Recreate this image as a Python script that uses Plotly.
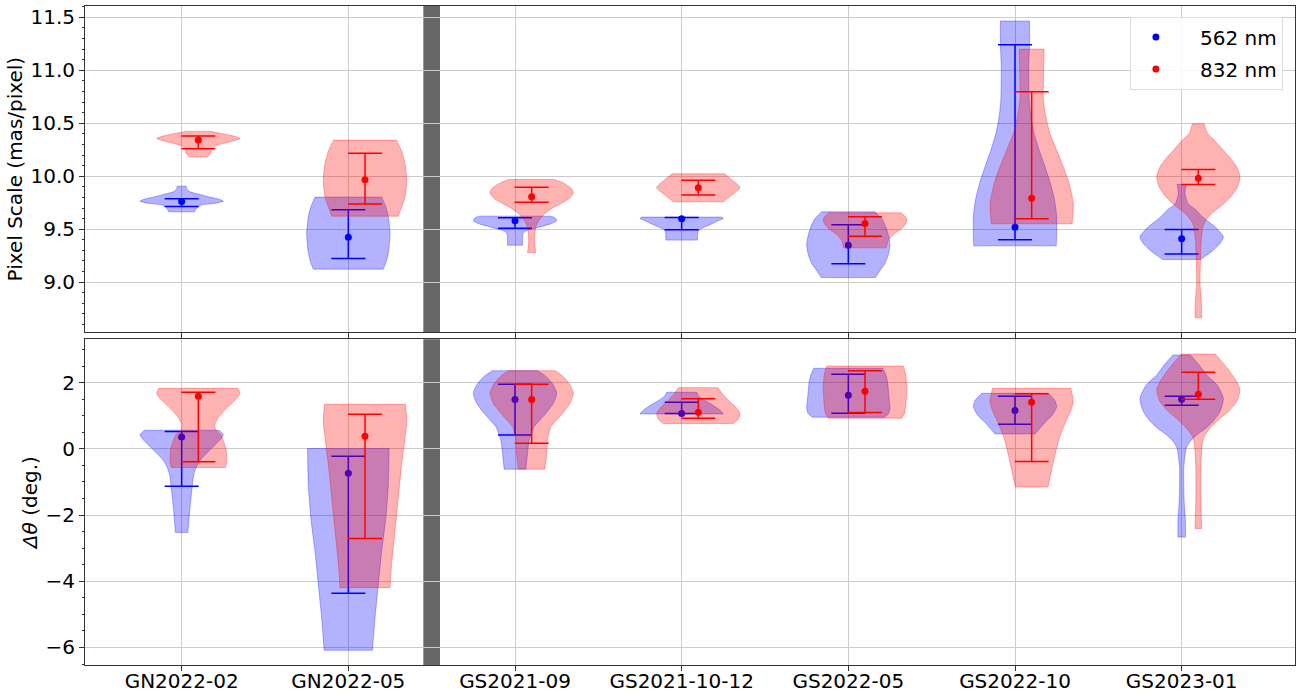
import plotly.graph_objects as go

# ---------------------------------------------------------------- data
CATEGORIES = ["GN2022-02", "GN2022-05", "GS2021-09", "GS2021-10-12",
              "GS2022-05", "GS2022-10", "GS2023-01"]
POSITIONS = list(range(len(CATEGORIES)))
OFFSET_832 = 0.1          # 832 nm marks sit a little right of the 562 nm marks
VIOLIN_WIDTH = 0.5        # full width of a violin at its widest point

# Pixel scale (mas/pixel): central value and interval ends
PS_562_MID = [9.762, 9.425, 9.579, 9.598, 9.349, 9.519, 9.409]
PS_562_HIGH = [9.787, 9.683, 9.607, 9.611, 9.541, 11.241, 9.498]
PS_562_LOW = [9.715, 9.224, 9.510, 9.494, 9.173, 9.400, 9.267]
PS_832_MID = [10.341, 9.966, 9.806, 9.891, 9.554, 9.793, 9.982]
PS_832_HIGH = [10.379, 10.218, 9.897, 9.963, 9.617, 10.797, 10.064]
PS_832_LOW = [10.259, 9.737, 9.755, 9.822, 9.434, 9.598, 9.922]

# Rotation offset (deg.): central value and interval ends
DT_562_MID = [0.362, -0.734, 1.488, 1.066, 1.620, 1.157, 1.498]
DT_562_HIGH = [0.523, -0.220, 1.950, 1.408, 2.253, 1.589, 1.589]
DT_562_LOW = [-1.126, -4.365, 0.420, 1.066, 1.076, 0.744, 1.317]
DT_832_MID = [1.589, 0.382, 1.488, 1.106, 1.740, 1.408, 1.649]
DT_832_HIGH = [1.709, 1.046, 1.950, 1.518, 2.363, 1.669, 2.313]
DT_832_LOW = [-0.392, -2.705, 0.171, 0.925, 1.096, -0.382, 1.498]

# Violin profiles: [value, relative density] from top to bottom
PS_562_PROFILE = [
    [[9.906, 0.11], [9.880, 0.12], [9.853, 0.20], [9.830, 0.42], [9.806, 0.64],
     [9.785, 0.88], [9.765, 1.00], [9.745, 0.80], [9.727, 0.46], [9.700, 0.36],
     [9.664, 0.31]],
    [[9.803, 0.80], [9.711, 0.90], [9.617, 0.96], [9.460, 1.00], [9.302, 0.97],
     [9.208, 0.92], [9.123, 0.84]],
    [[9.623, 0.85], [9.610, 0.95], [9.579, 1.00], [9.550, 0.85], [9.507, 0.46],
     [9.480, 0.24], [9.455, 0.19], [9.420, 0.18], [9.349, 0.18]],
    [[9.614, 0.97], [9.600, 1.00], [9.580, 0.88], [9.554, 0.74], [9.525, 0.58],
     [9.498, 0.43], [9.480, 0.39], [9.397, 0.38]],
    [[9.664, 0.64], [9.600, 0.80], [9.522, 0.90], [9.430, 0.97], [9.349, 1.00],
     [9.260, 0.96], [9.177, 0.88], [9.110, 0.76], [9.044, 0.65]],
    [[11.465, 0.35], [11.254, 0.35], [11.033, 0.33], [10.719, 0.34], [10.561, 0.38],
     [10.400, 0.46], [10.246, 0.58], [10.089, 0.72], [9.932, 0.85], [9.774, 0.95],
     [9.617, 1.00], [9.460, 1.00], [9.343, 0.99]],
    [[9.922, 0.11], [9.837, 0.08], [9.743, 0.15], [9.680, 0.35], [9.617, 0.50],
     [9.522, 0.80], [9.428, 1.00], [9.365, 0.92], [9.302, 0.76], [9.214, 0.46]],
]
PS_832_PROFILE = [
    [[10.423, 0.30], [10.404, 0.55], [10.379, 0.85], [10.357, 1.00], [10.325, 0.75],
     [10.294, 0.45], [10.262, 0.32], [10.215, 0.29], [10.183, 0.22]],
    [[10.341, 0.75], [10.246, 0.87], [10.121, 0.96], [9.963, 1.00], [9.806, 0.96],
     [9.711, 0.88], [9.623, 0.80]],
    [[9.970, 0.54], [9.932, 0.78], [9.885, 0.95], [9.843, 1.00], [9.790, 0.90],
     [9.743, 0.70], [9.696, 0.48], [9.649, 0.32], [9.585, 0.18], [9.522, 0.10],
     [9.397, 0.07], [9.333, 0.08], [9.280, 0.10]],
    [[10.023, 0.63], [9.963, 0.82], [9.894, 1.00], [9.822, 0.80], [9.759, 0.60]],
    [[9.655, 0.87], [9.601, 1.00], [9.554, 0.98], [9.507, 0.88], [9.460, 0.71],
     [9.397, 0.56], [9.324, 0.51]],
    [[11.200, 0.30], [11.033, 0.29], [10.876, 0.28], [10.719, 0.28], [10.561, 0.34],
     [10.400, 0.44], [10.246, 0.60], [10.089, 0.76], [9.932, 0.90], [9.743, 1.00],
     [9.649, 0.99], [9.551, 0.97]],
    [[10.495, 0.14], [10.404, 0.22], [10.341, 0.38], [10.262, 0.56], [10.183, 0.74],
     [10.089, 0.92], [9.994, 1.00], [9.900, 0.94], [9.806, 0.78], [9.711, 0.52],
     [9.649, 0.32], [9.585, 0.18], [9.522, 0.11], [9.397, 0.07], [9.208, 0.05],
     [8.990, 0.04], [8.830, 0.07], [8.663, 0.08]],
]
DT_562_PROFILE = [
    [[0.563, 0.90], [0.420, 1.00], [0.220, 0.88], [0.020, 0.72], [-0.180, 0.56],
     [-0.380, 0.42], [-0.580, 0.34], [-0.780, 0.29], [-1.290, 0.24], [-1.890, 0.19],
     [-2.524, 0.15]],
    [[0.010, 0.98], [-1.090, 0.96], [-2.090, 0.90], [-3.100, 0.80], [-4.100, 0.72],
     [-5.110, 0.64], [-6.084, 0.58]],
    [[2.363, 0.54], [2.180, 0.75], [1.930, 0.92], [1.680, 1.00], [1.379, 0.92],
     [1.076, 0.74], [0.875, 0.60], [0.673, 0.46], [0.270, 0.34], [-0.130, 0.30],
     [-0.612, 0.26]],
    [[1.709, 0.36], [1.578, 0.42], [1.428, 0.60], [1.277, 0.80], [1.146, 0.94],
     [1.055, 1.00]],
    [[2.434, 0.83], [2.232, 0.90], [2.030, 0.94], [1.629, 0.97], [1.228, 1.00],
     [1.077, 0.97], [0.957, 0.87]],
    [[1.679, 0.80], [1.478, 0.95], [1.277, 1.00], [1.026, 0.90], [0.825, 0.74],
     [0.624, 0.60], [0.452, 0.48]],
    [[2.836, 0.21], [2.534, 0.42], [2.230, 0.60], [1.930, 0.85], [1.528, 1.00],
     [1.126, 0.92], [0.825, 0.75], [0.624, 0.58], [0.420, 0.36], [0.220, 0.20],
     [0.020, 0.11], [-0.580, 0.05], [-1.590, 0.06], [-2.190, 0.09], [-2.665, 0.09]],
]
DT_832_PROFILE = [
    [[1.830, 0.95], [1.679, 1.00], [1.528, 0.92], [1.330, 0.76], [1.126, 0.60],
     [0.925, 0.47], [0.725, 0.39], [0.573, 0.42], [0.420, 0.54], [0.020, 0.66],
     [-0.380, 0.68], [-0.563, 0.65]],
    [[1.348, 0.97], [0.825, 1.00], [-0.580, 0.87], [-2.090, 0.75], [-3.600, 0.63],
     [-4.193, 0.60]],
    [[2.363, 0.56], [2.180, 0.76], [1.930, 0.92], [1.680, 1.00], [1.379, 0.92],
     [1.076, 0.74], [0.875, 0.60], [0.673, 0.46], [0.270, 0.38], [-0.130, 0.36],
     [-0.612, 0.32]],
    [[1.850, 0.47], [1.629, 0.60], [1.428, 0.75], [1.227, 0.92], [1.076, 1.00],
     [0.925, 0.97], [0.824, 0.90], [0.764, 0.84]],
    [[2.504, 0.92], [2.232, 0.98], [1.830, 1.00], [1.327, 0.98], [1.077, 0.95],
     [0.925, 0.88]],
    [[1.830, 0.94], [1.428, 1.00], [1.126, 0.93], [0.825, 0.82], [0.322, 0.66],
     [-0.180, 0.56], [-0.680, 0.47], [-1.154, 0.39]],
    [[2.866, 0.41], [2.430, 0.70], [2.030, 0.92], [1.780, 1.00], [1.428, 0.92],
     [1.127, 0.72], [0.875, 0.48], [0.625, 0.28], [0.420, 0.16], [0.220, 0.10],
     [-0.580, 0.06], [-1.590, 0.06], [-2.404, 0.08]],
]

SERIES_NAMES = ["562 nm", "832 nm"]
LINE_COLORS = ["blue", "red"]
FILL_COLORS = ["rgba(0,0,255,0.3)", "rgba(255,0,0,0.3)"]

FONT = "DejaVu Sans"
X_RANGE = [-0.58, 6.68]
PS_RANGE = [8.527, 11.607]
DT_RANGE = [-6.53, 3.31]

fig = go.Figure()


def outline(x0, profile):
    """Closed violin outline; extra points hugging each corner keep the
    flat ends crisp when the sides are drawn as a smooth curve."""
    ys = [p[0] for p in profile]
    hw = [p[1] * VIOLIN_WIDTH / 2 for p in profile]
    eps = 0.03
    n = len(ys)

    def side(sign):
        pts = []
        for i in range(n):
            pts.append((x0 + sign * hw[i], ys[i]))
            if i == 0 or i == n - 2:
                t = eps if i == 0 else 1 - eps
                pts.append((x0 + sign * (hw[i] + t * (hw[i + 1] - hw[i])),
                            ys[i] + t * (ys[i + 1] - ys[i])))
        return pts

    right = side(1)
    left = side(-1)[::-1]
    pts = [(x0 - hw[0] * (1 - eps), ys[0]), (x0 + hw[0] * (1 - eps), ys[0])]
    pts += right
    pts += [(x0 + hw[-1] * (1 - eps), ys[-1]), (x0 - hw[-1] * (1 - eps), ys[-1])]
    pts += left
    pts.append(pts[0])
    return [p[0] for p in pts], [p[1] for p in pts]


def add_violin(x0, profile, fill, xa, ya):
    xs, ys = outline(x0, profile)
    fig.add_trace(go.Scatter(
        x=xs, y=ys, mode="lines", fill="toself", fillcolor=fill,
        line=dict(color=fill, width=1, shape="spline", smoothing=0.6),
        hoverinfo="skip", showlegend=False, xaxis=xa, yaxis=ya))


def add_errorbars(xpos, mid, high, low, color, xa, ya):
    fig.add_trace(go.Scatter(
        x=xpos, y=mid, mode="markers",
        marker=dict(color=color, size=7),
        error_y=dict(type="data", symmetric=False,
                     array=[h - m for h, m in zip(high, mid)],
                     arrayminus=[m - l for m, l in zip(mid, low)],
                     color=color, thickness=1.5, width=17),
        showlegend=False, xaxis=xa, yaxis=ya))


panels = [
    ("x", "y", [PS_562_PROFILE, PS_832_PROFILE],
     [(PS_562_MID, PS_562_HIGH, PS_562_LOW), (PS_832_MID, PS_832_HIGH, PS_832_LOW)]),
    ("x2", "y2", [DT_562_PROFILE, DT_832_PROFILE],
     [(DT_562_MID, DT_562_HIGH, DT_562_LOW), (DT_832_MID, DT_832_HIGH, DT_832_LOW)]),
]

for xa, ya, profiles, stats in panels:
    for k in range(2):
        off = k * OFFSET_832
        for pos, prof in zip(POSITIONS, profiles[k]):
            add_violin(pos + off, prof, FILL_COLORS[k], xa, ya)
        mid, high, low = stats[k]
        add_errorbars([p + off for p in POSITIONS], mid, high, low,
                      LINE_COLORS[k], xa, ya)

# legend entries
PAD = "\u00a0" * 3
for k in range(2):
    fig.add_trace(go.Scatter(
        x=[None], y=[None], mode="markers", name=PAD + SERIES_NAMES[k],
        legendgroup=SERIES_NAMES[k],
        marker=dict(color=LINE_COLORS[k], size=7), xaxis="x", yaxis="y"))

# dark band separating the two sites
for xref, yref in (("x", "y domain"), ("x2", "y2 domain")):
    fig.add_shape(type="rect", xref=xref, yref=yref, x0=1.45, x1=1.55,
                  y0=0, y1=1, fillcolor="#666666", line_width=0, layer="below")

axis_common = dict(
    showline=True, linecolor="#333333", linewidth=1, mirror=True,
    showgrid=True, gridcolor="#cccccc", gridwidth=1, zeroline=False,
    ticks="outside", ticklen=5, tickcolor="#333333", automargin=False,
    tickfont=dict(family=FONT, size=20, color="black"),
)

fig.update_layout(
    width=1304, height=696,
    margin=dict(l=85, r=9, t=6, b=31),
    plot_bgcolor="white", paper_bgcolor="white",
    font=dict(family=FONT, size=20, color="black"),
    xaxis=dict(axis_common, domain=[0, 1], range=X_RANGE, anchor="y",
               tickvals=POSITIONS, ticktext=CATEGORIES, showticklabels=False,
               matches="x2"),
    yaxis=dict(axis_common, domain=[0.5049, 1], range=PS_RANGE, anchor="x",
               dtick=0.5, tick0=9.0, tickformat=".1f",
               minor=dict(ticks="outside", ticklen=2.5, dtick=0.1, tick0=9.0,
                          tickcolor="#333333", showgrid=False),
               title=dict(text="Pixel Scale (mas/pixel)", standoff=2,
                          font=dict(family=FONT, size=20))),
    xaxis2=dict(axis_common, domain=[0, 1], range=X_RANGE, anchor="y2",
                tickvals=POSITIONS, ticktext=CATEGORIES, ticklabelstandoff=-7),
    yaxis2=dict(axis_common, domain=[0, 0.4942], range=DT_RANGE, anchor="x2",
                dtick=2, tick0=0,
                minor=dict(ticks="outside", ticklen=2.5, dtick=0.5, tick0=0,
                           tickcolor="#333333", showgrid=False),
                title=dict(text="<i>Δθ</i> (deg.)", standoff=2,
                           font=dict(family=FONT, size=20))),
    legend=dict(x=0.990, y=0.984, xanchor="right", yanchor="top",
                bgcolor="rgba(255,255,255,0.85)", bordercolor="#dddddd",
                borderwidth=1, font=dict(family=FONT, size=20),
                itemwidth=40, tracegroupgap=3),
    showlegend=True,
)

fig.write_html("out.html")
